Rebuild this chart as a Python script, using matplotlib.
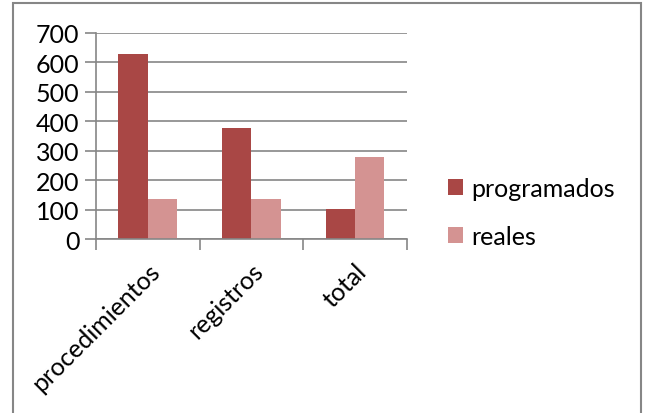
import matplotlib
matplotlib.use("Agg")
import matplotlib.pyplot as plt
from matplotlib.patches import Rectangle
import numpy as np

categorias = ["procedimientos", "registros", "total"]
programados = [627, 377, 102]
reales = [138, 137, 278]

plt.rcParams['font.family'] = ['Lato', 'DejaVu Sans']

fig = plt.figure(figsize=(6.47, 4.14), dpi=100)
ax = fig.add_axes([0.1484, 0.4196, 0.4802, 0.499])

x = np.arange(len(categorias))
w = 0.283
b1 = ax.bar(x - w / 2, programados, w, color="#a94745", label="programados")
b2 = ax.bar(x + w / 2, reales, w, color="#d49392", label="reales")

ax.set_xlim(-0.5, 2.5)
ax.set_ylim(0, 700)
ax.set_yticks(range(0, 701, 100))
ax.yaxis.grid(True, color="#868686", linewidth=1.2)
ax.set_axisbelow(True)
for s in ["top", "right"]:
    ax.spines[s].set_visible(False)
ax.spines["left"].set_color("#868686")
ax.spines["bottom"].set_color("#868686")
ax.spines["left"].set_linewidth(1.2)
ax.spines["bottom"].set_linewidth(1.2)

ax.set_xticks([-0.5, 0.5, 1.5, 2.5])
ax.set_xticklabels([])
ax.set_xticks(x, minor=True)
ax.set_xticklabels(categorias, minor=True, rotation=45, ha="right", va="top",
                   rotation_mode="anchor", fontsize=18)
ax.tick_params(axis="x", which="minor", length=0, pad=14)
ax.tick_params(axis="x", which="major", length=8, color="#868686", width=1.2)
ax.tick_params(axis="y", length=8, color="#868686", width=1.2, labelsize=18, pad=4)

fig.legend(handles=[b1, b2], loc="upper left", bbox_to_anchor=(0.657, 0.625),
           frameon=False, fontsize=18, handlelength=0.6, handleheight=0.6,
           handletextpad=0.35, labelspacing=1.0)

fig.patches.append(Rectangle((13 / 647, -0.05), 628 / 647, 1.05 - 4 / 414,
                             transform=fig.transFigure, fill=False,
                             edgecolor="#868686", linewidth=1.5))

fig.savefig("out.png", dpi=100)
